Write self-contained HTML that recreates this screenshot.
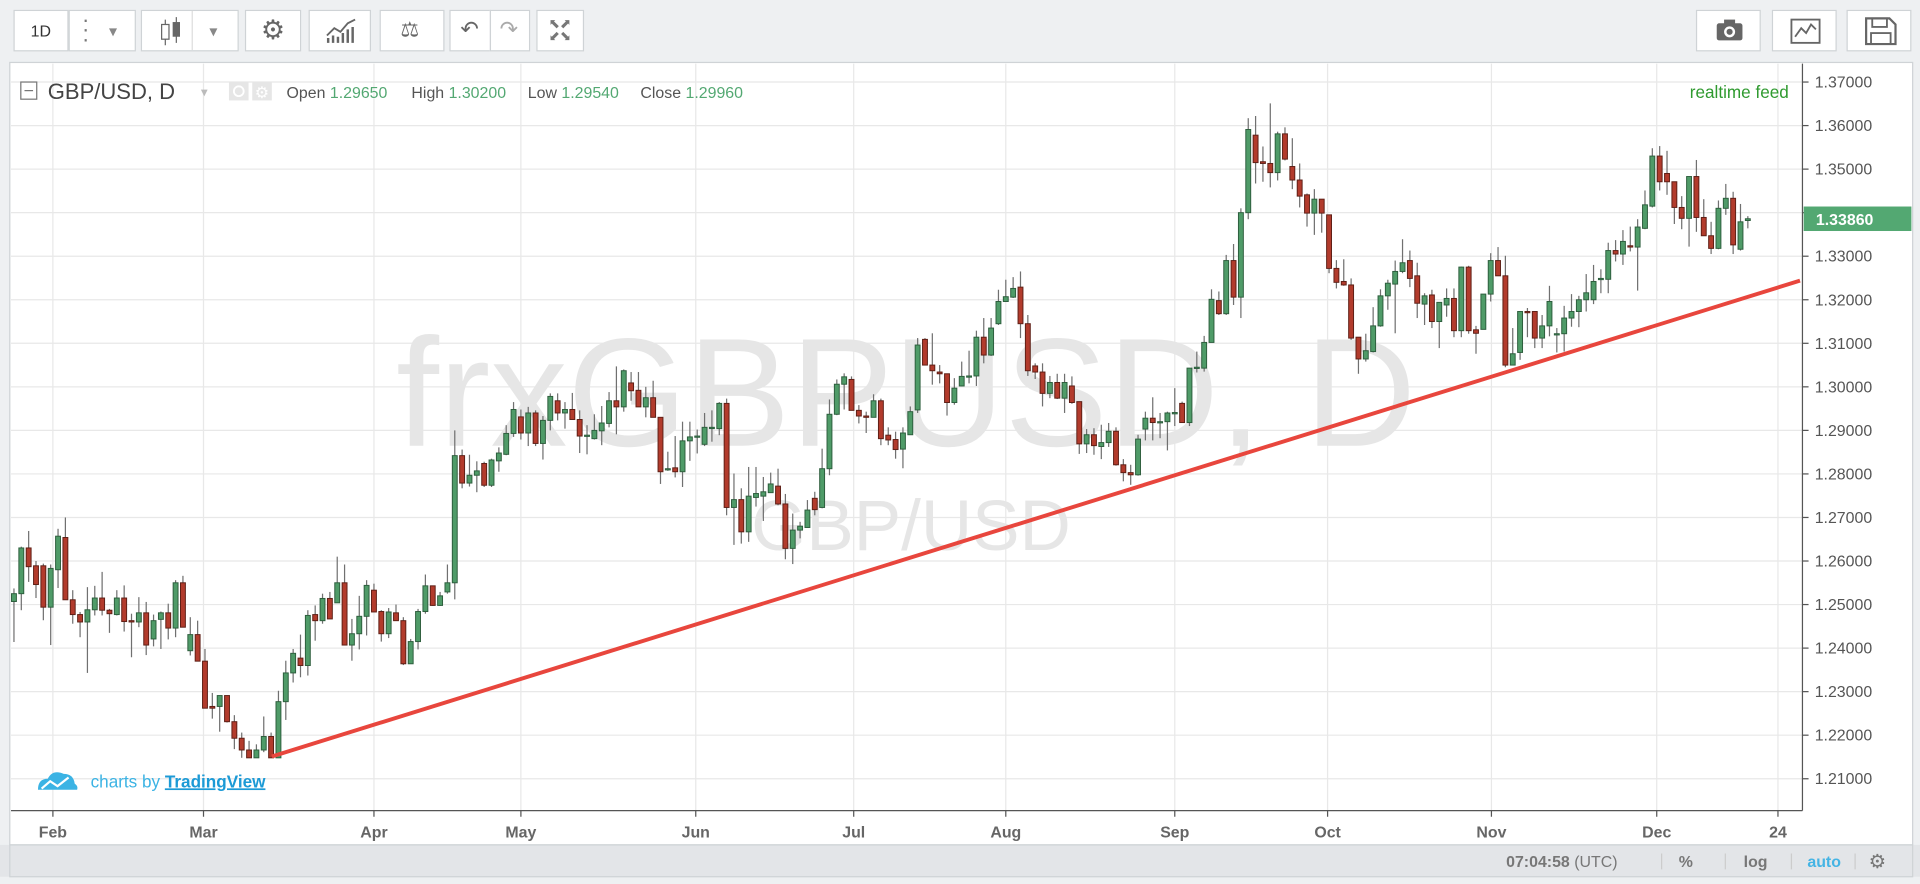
<!DOCTYPE html>
<html><head><meta charset="utf-8">
<style>
html,body{margin:0;padding:0;width:1920px;height:884px;overflow:hidden;background:#eef0f2;font-family:"Liberation Sans",sans-serif;}
#wrap{position:absolute;left:0;top:0;width:1568px;height:722px;transform:scale(1.22449);transform-origin:0 0;background:#eef0f2;}
.btn{position:absolute;top:8px;height:34px;background:#fff;border:1px solid #cfd3d6;box-sizing:border-box;}
.bt{position:absolute;font-size:13px;color:#555;}
</style></head><body>
<div id="wrap">
  <div class="btn" style="left:11px;width:45px"><span class="bt" style="left:13px;top:9px;color:#333">1D</span></div>
  <div class="btn" style="left:56px;width:55px"><span class="bt" style="left:10px;top:3px;font-size:18px;line-height:8px;color:#777">·<br>·<br>·</span><span class="bt" style="left:32px;top:9px;color:#888">▾</span></div>
  <div class="btn" style="left:115px;width:80px">
    <svg width="80" height="32"><line x1="19" y1="7" x2="19" y2="28" stroke="#666"/><rect x="16" y="11" width="6" height="12" fill="#fff" stroke="#666"/><line x1="28" y1="5" x2="28" y2="26" stroke="#666"/><rect x="25" y="9" width="6" height="12" fill="#666"/><line x1="41" y1="0" x2="41" y2="32" stroke="#ddd"/><text x="55" y="21" font-size="13" fill="#888">▾</text></svg></div>
  <div class="btn" style="left:200px;width:46px"><span class="bt" style="left:12px;top:3px;font-size:22px;color:#666">⚙</span></div>
  <div class="btn" style="left:252px;width:51px"><svg width="51" height="32"><polyline points="14,20 20,14 25,17 31,10 37,7" fill="none" stroke="#666" stroke-width="1.5"/><g stroke="#666" stroke-width="2"><line x1="15" y1="26" x2="15" y2="22"/><line x1="19" y1="26" x2="19" y2="20"/><line x1="23" y1="26" x2="23" y2="21"/><line x1="27" y1="26" x2="27" y2="18"/><line x1="31" y1="26" x2="31" y2="15"/><line x1="35" y1="26" x2="35" y2="13"/></g></svg></div>
  <div class="btn" style="left:310px;width:53px"><span class="bt" style="left:16px;top:6px;font-size:17px;color:#666">⚖</span></div>
  <div class="btn" style="left:367px;width:34px"><span class="bt" style="left:8px;top:5px;font-size:18px;color:#666">↶</span></div>
  <div class="btn" style="left:400px;width:33px"><span class="bt" style="left:7px;top:5px;font-size:18px;color:#aaa">↷</span></div>
  <div class="btn" style="left:438px;width:39px"><span class="bt" style="left:9px;top:6px;font-size:11px;line-height:10px;color:#777">⬉⬈<br>⬋⬊</span></div>
  <div class="btn" style="left:1385px;width:53px"><svg width="53" height="32"><rect x="16" y="10" width="21" height="14" rx="2" fill="#666"/><rect x="22" y="7" width="9" height="4" fill="#666"/><circle cx="26.5" cy="17" r="4.5" fill="#fff"/><circle cx="26.5" cy="17" r="2.5" fill="#666"/></svg></div>
  <div class="btn" style="left:1447px;width:53px"><svg width="53" height="32"><rect x="15" y="7" width="23" height="19" fill="none" stroke="#666" stroke-width="1.5"/><polyline points="18,21 23,14 27,18 31,11 35,15" fill="none" stroke="#666" stroke-width="1.5"/></svg></div>
  <div class="btn" style="left:1508px;width:53px"><svg width="53" height="32"><path d="M15 6 H34 L39 11 V27 H15 Z" fill="none" stroke="#666" stroke-width="1.8"/><rect x="20" y="6" width="12" height="7" fill="none" stroke="#666" stroke-width="1.5"/><rect x="19" y="18" width="16" height="9" fill="none" stroke="#666" stroke-width="1.5"/></svg></div>

  <svg id="chart" style="position:absolute;left:0;top:0" width="1568" height="722"></svg>
</div>
<script>
const opens=[1.2507,1.2525,1.2630,1.2589,1.2589,1.2494,1.2580,1.2654,1.2511,1.2477,1.2460,1.2488,1.2515,1.2487,1.2477,1.2515,1.2463,1.2460,1.2481,1.2421,1.2466,1.2481,1.2446,1.2550,1.2394,1.2431,1.2370,1.2266,1.2266,1.2291,1.2231,1.2193,1.2166,1.2148,1.2166,1.2197,1.2148,1.2277,1.2343,1.2377,1.2360,1.2477,1.2463,1.2514,1.2504,1.2550,1.2407,1.2433,1.2473,1.2533,1.2484,1.2433,1.2481,1.2463,1.2364,1.2415,1.2484,1.2543,1.2498,1.2529,1.2550,1.2842,1.2779,1.2797,
1.2824,1.2774,1.2830,1.2845,1.2893,1.2931,1.2894,1.2940,1.2870,1.2923,1.2968,1.2940,1.2948,1.2925,1.2889,1.2881,1.2899,1.2916,1.2968,1.2954,1.3009,1.2992,1.2954,1.2975,1.2930,1.2812,1.2814,1.2805,1.2876,1.2887,1.2868,1.2907,1.2904,1.2962,1.2723,1.2741,1.2667,1.2746,1.2749,1.2757,1.2772,1.2731,1.2629,1.2671,1.2677,1.2744,1.2723,1.2812,1.2937,1.3006,1.3017,1.2946,1.2933,1.2930,1.2968,1.2889,1.2879,
1.2857,1.2890,1.2947,1.3109,1.3050,1.3034,1.3030,1.2964,1.3002,1.3025,1.3025,1.3114,1.3073,1.3145,1.3196,1.3206,1.3229,1.3145,1.3048,1.3034,1.2985,1.3010,1.2974,1.3002,1.2966,1.2869,1.2890,1.2863,1.2872,1.2898,1.2821,1.2803,1.2798,1.2903,1.2928,1.2920,1.2920,1.2938,1.2962,1.2918,1.3043,1.3043,1.3102,1.3198,1.3168,1.3290,1.3206,1.3400,1.3578,1.3517,1.3513,1.3492,1.3581,1.3506,1.3475,1.3441,1.3399,1.3431,1.3395,1.3272,1.3242,1.3234,1.3114,
1.3064,1.3081,1.3140,1.3209,1.3236,1.3265,1.3290,1.3255,1.3190,1.3211,1.3150,1.3188,1.3203,1.3129,1.3275,1.3131,1.3132,1.3213,1.3290,1.3255,1.3050,1.3079,1.3173,1.3173,1.3112,1.3140,1.3122,1.3122,1.3158,1.3173,1.3200,1.3200,1.3249,1.3247,1.3313,1.3305,1.3324,1.3321,1.3364,1.3415,1.3530,1.3490,1.3471,1.3412,1.3387,1.3483,1.3389,1.3347,1.3318,1.3410,1.3433,1.3316,1.3382];
const closes=[1.2525,1.2630,1.2587,1.2546,1.2494,1.2583,1.2657,1.2511,1.2477,1.2460,1.2488,1.2515,1.2487,1.2479,1.2515,1.2461,1.2460,1.2481,1.2407,1.2463,1.2481,1.2446,1.2550,1.2448,1.2431,1.2370,1.2262,1.2262,1.2291,1.2231,1.2193,1.2166,1.2148,1.2166,1.2197,1.2148,1.2277,1.2343,1.2388,1.2360,1.2475,1.2463,1.2514,1.2467,1.2550,1.2407,1.2433,1.2473,1.2544,1.2483,1.2433,1.2483,1.2463,1.2364,1.2415,1.2484,1.2543,1.2498,1.2520,1.2550,1.2842,1.2779,1.2797,1.2807,
1.2774,1.2832,1.2848,1.2893,1.2948,1.2894,1.2940,1.2870,1.2923,1.2978,1.2940,1.2948,1.2925,1.2887,1.2889,1.2900,1.2917,1.2968,1.2954,1.3037,1.2991,1.2954,1.2975,1.2930,1.2805,1.2812,1.2805,1.2876,1.2885,1.2887,1.2907,1.2907,1.2962,1.2723,1.2741,1.2667,1.2749,1.2755,1.2759,1.2777,1.2731,1.2629,1.2671,1.2680,1.2717,1.2718,1.2812,1.2937,1.3006,1.3023,1.2946,1.2933,1.2930,1.2968,1.2881,1.2878,1.2856,
1.2894,1.2943,1.3096,1.3050,1.3037,1.3030,1.2964,1.2997,1.3024,1.3025,1.3114,1.3073,1.3135,1.3196,1.3207,1.3226,1.3145,1.3037,1.3034,1.2985,1.3010,1.2974,1.3010,1.2964,1.2869,1.2890,1.2865,1.2872,1.2898,1.2821,1.2803,1.2798,1.2880,1.2928,1.2918,1.2920,1.2940,1.2941,1.2918,1.3043,1.3045,1.3102,1.3201,1.3168,1.3290,1.3206,1.3400,1.3591,1.3515,1.3513,1.3492,1.3581,1.3523,1.3475,1.3438,1.3399,1.3431,1.3399,1.3272,1.3240,1.3234,1.3112,1.3064,
1.3083,1.3140,1.3209,1.3238,1.3265,1.3285,1.3249,1.3192,1.3209,1.3150,1.3194,1.3203,1.3129,1.3275,1.3129,1.3123,1.3213,1.3290,1.3255,1.3050,1.3076,1.3173,1.3171,1.3112,1.3140,1.3196,1.3122,1.3158,1.3173,1.3200,1.3216,1.3242,1.3249,1.3313,1.3305,1.3334,1.3321,1.3367,1.3418,1.3530,1.3471,1.3471,1.3412,1.3387,1.3483,1.3389,1.3347,1.3318,1.3410,1.3433,1.3326,1.3379,1.3386];
const highs=[1.2537,1.2633,1.2669,1.2600,1.2594,1.2592,1.2674,1.2700,1.2533,1.2483,1.2540,1.2543,1.2575,1.2490,1.2533,1.2544,1.2479,1.2517,1.2506,1.2477,1.2484,1.2502,1.2556,1.2566,1.2471,1.2463,1.2398,1.2297,1.2291,1.2291,1.2246,1.2206,1.2187,1.2179,1.2243,1.2206,1.2302,1.2371,1.2398,1.2431,1.2487,1.2498,1.2525,1.2529,1.2610,1.2592,1.2467,1.2520,1.2556,1.2548,1.2487,1.2492,1.2500,1.2471,1.2421,1.2490,1.2569,1.2543,1.2529,1.2592,1.2900,1.2856,1.2844,1.2829,
1.2828,1.2835,1.2861,1.2912,1.2965,1.2948,1.2954,1.2946,1.2933,1.2985,1.2985,1.2965,1.2986,1.2946,1.2912,1.2937,1.2956,1.2988,1.3047,1.3040,1.3034,1.3034,1.3000,1.3014,1.2930,1.2851,1.2887,1.2920,1.2920,1.2902,1.2940,1.2946,1.2965,1.2973,1.2801,1.2767,1.2816,1.2816,1.2793,1.2803,1.2812,1.2754,1.2709,1.2690,1.2740,1.2759,1.2858,1.2971,1.3017,1.3031,1.3024,1.2958,1.2943,1.2983,1.2973,1.2907,1.2897,
1.2907,1.2955,1.3112,1.3112,1.3123,1.3050,1.3030,1.3020,1.3058,1.3083,1.3129,1.3158,1.3158,1.3223,1.3246,1.3252,1.3265,1.3165,1.3054,1.3054,1.3025,1.3030,1.3030,1.3024,1.2966,1.2903,1.2905,1.2913,1.2917,1.2907,1.2834,1.2821,1.2890,1.2943,1.2976,1.2940,1.2943,1.2997,1.2966,1.3043,1.3081,1.3117,1.3224,1.3219,1.3303,1.3328,1.3410,1.3617,1.3622,1.3552,1.3651,1.3586,1.3596,1.3571,1.3513,1.3444,1.3454,1.3431,1.3395,1.3291,1.3293,1.3249,1.3114,
1.3122,1.3183,1.3224,1.3246,1.3290,1.3339,1.3313,1.3285,1.3215,1.3223,1.3194,1.3226,1.3226,1.3276,1.3278,1.3140,1.3213,1.3307,1.3321,1.3301,1.3135,1.3173,1.3181,1.3173,1.3165,1.3232,1.3135,1.3186,1.3213,1.3209,1.3259,1.3280,1.3270,1.3331,1.3337,1.3360,1.3368,1.3385,1.3451,1.3548,1.3553,1.3542,1.3471,1.3438,1.3483,1.3521,1.3431,1.3379,1.3428,1.3466,1.3448,1.3420,1.3392];
const lows=[1.2414,1.2487,1.2552,1.2515,1.2464,1.2407,1.2538,1.2511,1.2456,1.2425,1.2343,1.2475,1.2475,1.2435,1.2475,1.2438,1.2379,1.2448,1.2384,1.2404,1.2398,1.2420,1.2425,1.2448,1.2383,1.2370,1.2262,1.2238,1.2208,1.2229,1.2168,1.2148,1.2148,1.2148,1.2161,1.2148,1.2148,1.2235,1.2321,1.2333,1.2337,1.2417,1.2456,1.2467,1.2504,1.2407,1.2371,1.2397,1.2429,1.2483,1.2415,1.2423,1.2463,1.2361,1.2364,1.2397,1.2479,1.2497,1.2497,1.2525,1.2512,1.2767,1.2771,1.2758,
1.2770,1.2770,1.2805,1.2843,1.2885,1.2879,1.2864,1.2864,1.2833,1.2900,1.2923,1.2904,1.2925,1.2848,1.2845,1.2879,1.2866,1.2907,1.2891,1.2943,1.2968,1.2954,1.2930,1.2930,1.2777,1.2807,1.2792,1.2770,1.2830,1.2847,1.2864,1.2874,1.2889,1.2705,1.2637,1.2640,1.2644,1.2725,1.2692,1.2757,1.2728,1.2604,1.2593,1.2652,1.2677,1.2705,1.2721,1.2797,1.2935,1.2948,1.2946,1.2916,1.2894,1.2930,1.2866,1.2866,1.2835,
1.2813,1.2890,1.2940,1.3050,1.3005,1.3008,1.2934,1.2959,1.3001,1.3008,1.3002,1.3054,1.3071,1.3142,1.3196,1.3204,1.3112,1.3025,1.3018,1.2955,1.2974,1.2972,1.2940,1.2961,1.2846,1.2848,1.2844,1.2834,1.2862,1.2819,1.2783,1.2775,1.2796,1.2877,1.2877,1.2882,1.2854,1.2910,1.2918,1.2910,1.3033,1.3035,1.3102,1.3165,1.3165,1.3188,1.3158,1.3385,1.3467,1.3471,1.3458,1.3474,1.3520,1.3454,1.3412,1.3368,1.3349,1.3354,1.3261,1.3226,1.3232,1.3108,1.3030,
1.3058,1.3079,1.3138,1.3177,1.3123,1.3261,1.3229,1.3158,1.3142,1.3135,1.3089,1.3161,1.3114,1.3114,1.3122,1.3076,1.3132,1.3196,1.3255,1.3045,1.3050,1.3062,1.3114,1.3089,1.3089,1.3116,1.3079,1.3081,1.3138,1.3137,1.3173,1.3190,1.3215,1.3215,1.3288,1.3280,1.3311,1.3221,1.3362,1.3412,1.3451,1.3441,1.3374,1.3362,1.3322,1.3356,1.3347,1.3305,1.3316,1.3395,1.3305,1.3313,1.3364];
const priceTicks=[1.37,1.36,1.35,1.34,1.33,1.32,1.31,1.30,1.29,1.28,1.27,1.26,1.25,1.24,1.23,1.22,1.21];
const monthLabels=["Feb","Mar","Apr","May","Jun","Jul","Aug","Sep","Oct","Nov","Dec","24"];
const monthBarIndex=[5.3,25.8,49,69,92.8,114.3,135,158,178.8,201.1,223.6,240.1];
const trendIndex=[35.1,243.1];
const trendPrice=[1.2151,1.3244];
const lastPrice=1.33860;

const NS="http://www.w3.org/2000/svg";
const svg=document.getElementById('chart');
const X0=11.4, DX=6.0;
function xScale(i){return X0+i*DX;}
function yScale(p){return 67+(1.37-p)*3556;}
function mk(tag,attrs,parent){const e=document.createElementNS(NS,tag);for(const k in attrs)e.setAttribute(k,attrs[k]);(parent||svg).appendChild(e);return e;}

let e;
e=mk('rect',{x:8,y:51,width:1554,height:639,fill:'#fff',stroke:'#cfd3d6'});


e=mk('rect',{x:0,y:690,width:1568,height:26,fill:'#e3e5e8'});


mk('rect',{x:8,y:690,width:1554,height:26,fill:'#e3e5e8',stroke:'#cfd3d6'});

const grid=mk('g',{});


priceTicks.forEach(p=>{mk('line',{x1:9,x2:1472,y1:yScale(p),y2:yScale(p),stroke:'#e8e8e8','stroke-width':1},grid);});
monthBarIndex.forEach(i=>{mk('line',{x1:xScale(i),x2:xScale(i),y1:52,y2:662,stroke:'#e8e8e8','stroke-width':1},grid);});

e=mk('text',{x:740,y:364,'font-size':126,fill:'#e6e6e6','text-anchor':'middle','font-family':'Liberation Sans, sans-serif'});
e.textContent='frxGBPUSD, D';


e=mk('text',{x:744,y:449,'font-size':58,fill:'#e6e6e6','text-anchor':'middle','font-family':'Liberation Sans, sans-serif'});
e.textContent='GBP/USD';



const cg=mk('g',{});


for(let i=0;i<closes.length;i++){
  const x=xScale(i), o=opens[i], c=closes[i];
  const up=c>=o;
  const g=mk('g',{},cg);
  
  
  mk('line',{x1:x,x2:x,y1:yScale(Math.max(highs[i],o,c)),y2:yScale(Math.min(lows[i],o,c)),stroke:'#707070','stroke-width':1},g);
  const yt=yScale(Math.max(o,c)), yb=yScale(Math.min(o,c));
  mk('rect',{x:x-2,y:yt,width:4,height:Math.max(1,yb-yt),fill:up?'#4f9b68':'#b23b2c',stroke:up?'#2d5e3d':'#5e1f16','stroke-width':0.8},g);
}

e=mk('line',{x1:xScale(trendIndex[0]),y1:yScale(trendPrice[0]),x2:xScale(trendIndex[1]),y2:yScale(trendPrice[1]),stroke:'#e8463d','stroke-width':3.2});



mk('line',{x1:1472,x2:1472,y1:52,y2:662,stroke:'#555','stroke-width':1});
mk('line',{x1:9,x2:1472,y1:662,y2:662,stroke:'#555','stroke-width':1});
const pa=mk('g',{});


priceTicks.forEach(p=>{
  mk('line',{x1:1472,x2:1477,y1:yScale(p),y2:yScale(p),stroke:'#555'},pa);
  const t=mk('text',{x:1482,y:yScale(p)+4.5,'font-size':13,fill:'#555','font-family':'Liberation Sans, sans-serif'},pa);
  t.textContent=p.toFixed(5);
  
  
});
const ta=mk('g',{});


monthLabels.forEach((m,k)=>{
  const x=xScale(monthBarIndex[k]);
  mk('line',{x1:x,x2:x,y1:662,y2:667,stroke:'#555'},ta);
  const t=mk('text',{x:x,y:684,'font-size':13,'font-weight':'bold',fill:'#666','text-anchor':'middle','font-family':'Liberation Sans, sans-serif'},ta);
  t.textContent=m;
  
  
});

const ly=yScale(lastPrice);
e=mk('rect',{x:1473,y:ly-10,width:88,height:20,fill:'#53a872'});


e=mk('text',{x:1483,y:ly+5,'font-size':13,'font-weight':'bold',fill:'#fff','font-family':'Liberation Sans, sans-serif'});
e.textContent=lastPrice.toFixed(5);



const lg=mk('g',{});


mk('rect',{x:17,y:67,width:13,height:14,fill:'#fff',stroke:'#777'},lg);
mk('line',{x1:20,x2:27,y1:74,y2:74,stroke:'#777'},lg);
e=mk('text',{x:39,y:81,'font-size':18,fill:'#444','font-family':'Liberation Sans, sans-serif'},lg);
e.textContent='GBP/USD, D';


e=mk('text',{x:164,y:79,'font-size':11,fill:'#bbb'},lg);e.textContent='▾';
mk('rect',{x:187,y:67,width:16,height:15,fill:'#e6e6e6'},lg);
mk('circle',{cx:195,cy:74.5,r:4,fill:'none',stroke:'#fff','stroke-width':1.5},lg);
mk('rect',{x:206,y:67,width:16,height:15,fill:'#e6e6e6'},lg);
e=mk('text',{x:208,y:80,'font-size':13,fill:'#fff'},lg);e.textContent='⚙';
const ohlcLabels=["Open","High","Low","Close"];
const ohlcValues=["1.29650","1.30200","1.29540","1.29960"];
const ohlcX=[234,336,431,523];
ohlcLabels.forEach((l,k)=>{
  const t=mk('text',{x:ohlcX[k],y:80,'font-size':13,'font-family':'Liberation Sans, sans-serif'},lg);
  const a=document.createElementNS(NS,'tspan');a.setAttribute('fill','#555');a.textContent=l+' ';t.appendChild(a);
  const b=document.createElementNS(NS,'tspan');b.setAttribute('fill','#53a872');b.textContent=ohlcValues[k];t.appendChild(b);
  
  
});
e=mk('text',{x:1380,y:80,'font-size':14,fill:'#2f9a2f','font-family':'Liberation Sans, sans-serif'});
e.textContent='realtime feed';



const tv=mk('g',{});


mk('path',{d:'M31 645 Q31 636 39 636 Q43 628 52 632 Q60 632 61 640 Q64 642 63 645 Z',fill:'#3bb3e4'},tv);
mk('polyline',{points:'34,644 41,638 47,642 56,635',fill:'none',stroke:'#fff','stroke-width':1.8},tv);
e=mk('text',{x:74,y:643,'font-size':14,fill:'#3bb3e4','font-family':'Liberation Sans, sans-serif'},tv);
const s1=document.createElementNS(NS,'tspan');s1.textContent='charts by ';e.appendChild(s1);
const s2=document.createElementNS(NS,'tspan');s2.setAttribute('font-weight','bold');s2.setAttribute('text-decoration','underline');s2.setAttribute('fill','#1c9ad6');s2.textContent='TradingView';e.appendChild(s2);

const bb=mk('g',{});


e=mk('text',{x:1230,y:708,'font-size':13,fill:'#777','font-family':'Liberation Sans, sans-serif'},bb);
const b1=document.createElementNS(NS,'tspan');b1.setAttribute('font-weight','bold');b1.textContent='07:04:58';e.appendChild(b1);
const b2=document.createElementNS(NS,'tspan');b2.textContent=' (UTC)';e.appendChild(b2);


[1357,1409,1463,1515].forEach(x=>mk('line',{x1:x,x2:x,y1:697,y2:710,stroke:'#ccc'},bb));
e=mk('text',{x:1371,y:708,'font-size':13,'font-weight':'bold',fill:'#777'},bb);e.textContent='%';


e=mk('text',{x:1424,y:708,'font-size':13,'font-weight':'bold',fill:'#777'},bb);e.textContent='log';


e=mk('text',{x:1476,y:708,'font-size':13,'font-weight':'bold',fill:'#45b4e4'},bb);e.textContent='auto';


e=mk('text',{x:1526,y:709,'font-size':16,fill:'#777'},bb);e.textContent='⚙';


</script>
</body></html>
